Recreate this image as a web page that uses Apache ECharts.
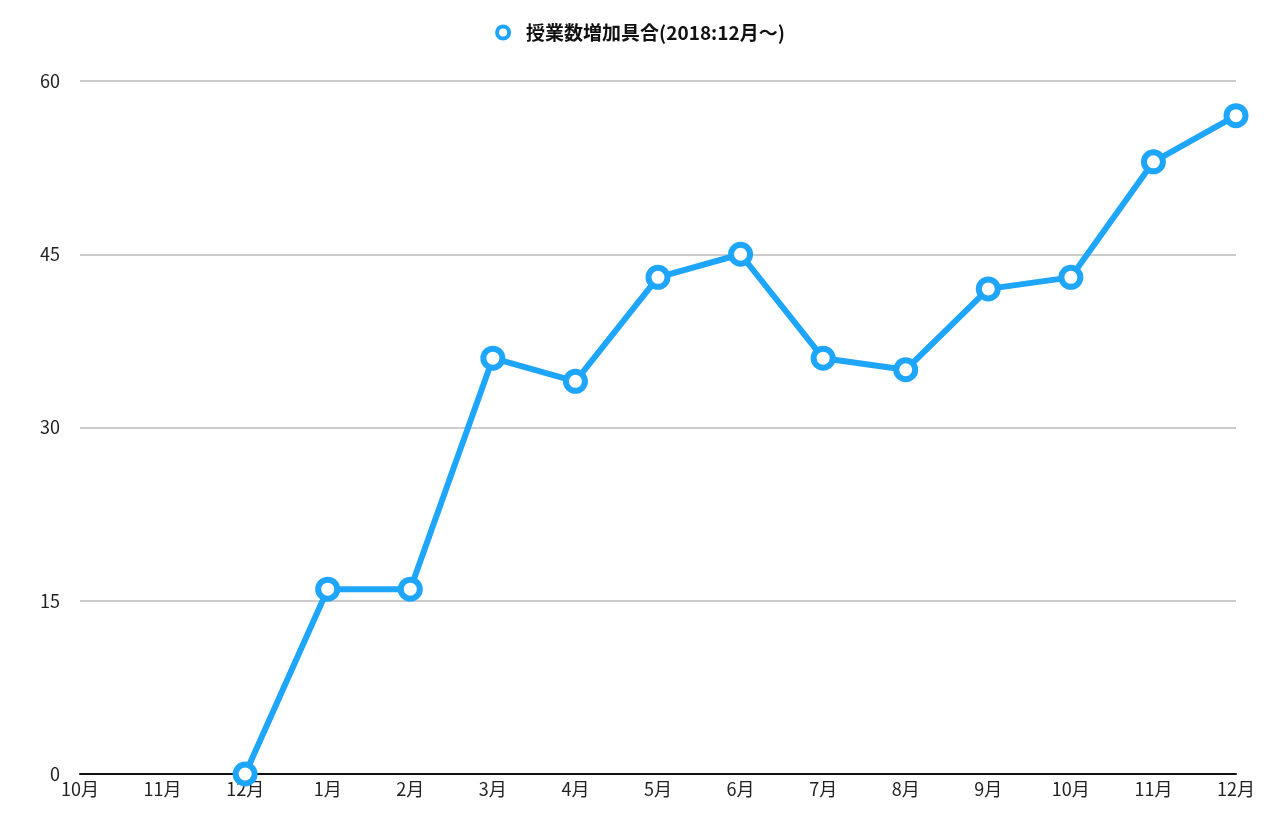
<!DOCTYPE html>
<html lang="ja">
<head>
  <meta charset="UTF-8">
  <title>授業数増加具合</title>
  <script src="https://cdn.jsdelivr.net/npm/echarts@6.0.0/dist/echarts.min.js"></script>
  <style>
    html, body { margin: 0; padding: 0; background: #fff; }
  </style>
</head>
<body>
  <div id="main" style="width: 1280px;height:824px;"></div>

  <script type="text/javascript">
    const months = ['10月', '11月', '12月', '1月', '2月', '3月', '4月', '5月', '6月', '7月', '8月', '9月', '10月', '11月', '12月'];
    const lessons = [null, null, 0, 16, 16, 36, 34, 43, 45, 36, 35, 42, 43, 53, 57];
    const yTicks = [0, 15, 30, 45, 60];

    const font = '"Noto Sans CJK JP", "Noto Sans", sans-serif';
    const blue = '#1ea5fc';
    const seriesName = '授業数増加具合(2018:12月〜)';

    let myChart = echarts.init(document.getElementById('main'));

    myChart.setOption({
      animation: false,
      textStyle: { fontFamily: font },
      legend: {
        top: 18,
        left: 'center',
        itemWidth: 12,
        itemHeight: 12,
        itemGap: 12,
        textStyle: { fontSize: 19, fontWeight: 'bold', color: '#111', fontFamily: font, padding: [0, 0, 0, 12] },
        data: [{
          name: seriesName,
          icon: 'circle',
          itemStyle: { color: '#fff', borderColor: blue, borderWidth: 4 }
        }]
      },
      grid: { left: 80, right: 44, top: 81, bottom: 50, containLabel: false },
      xAxis: {
        type: 'category',
        data: months,
        boundaryGap: false,
        axisLine: { lineStyle: { color: '#111', width: 2 } },
        axisTick: { show: false },
        axisLabel: { color: '#222', fontSize: 18, margin: 6, fontFamily: font, interval: 0 }
      },
      yAxis: {
        type: 'value',
        min: yTicks[0],
        max: yTicks[yTicks.length - 1],
        interval: yTicks[1] - yTicks[0],
        axisLine: { show: false },
        axisTick: { show: false },
        axisLabel: { color: '#222', fontSize: 18, margin: 20, fontFamily: font },
        splitLine: { lineStyle: { color: '#bbb', width: 1.5 } }
      },
      series: [{
        name: seriesName,
        type: 'line',
        data: lessons,
        connectNulls: false,
        symbol: 'circle',
        symbolSize: 19,
        lineStyle: { color: blue, width: 6 },
        itemStyle: { color: '#fff', borderColor: blue, borderWidth: 6 },
        emphasis: { disabled: true }
      }]
    });
  </script>
</body>
</html>
